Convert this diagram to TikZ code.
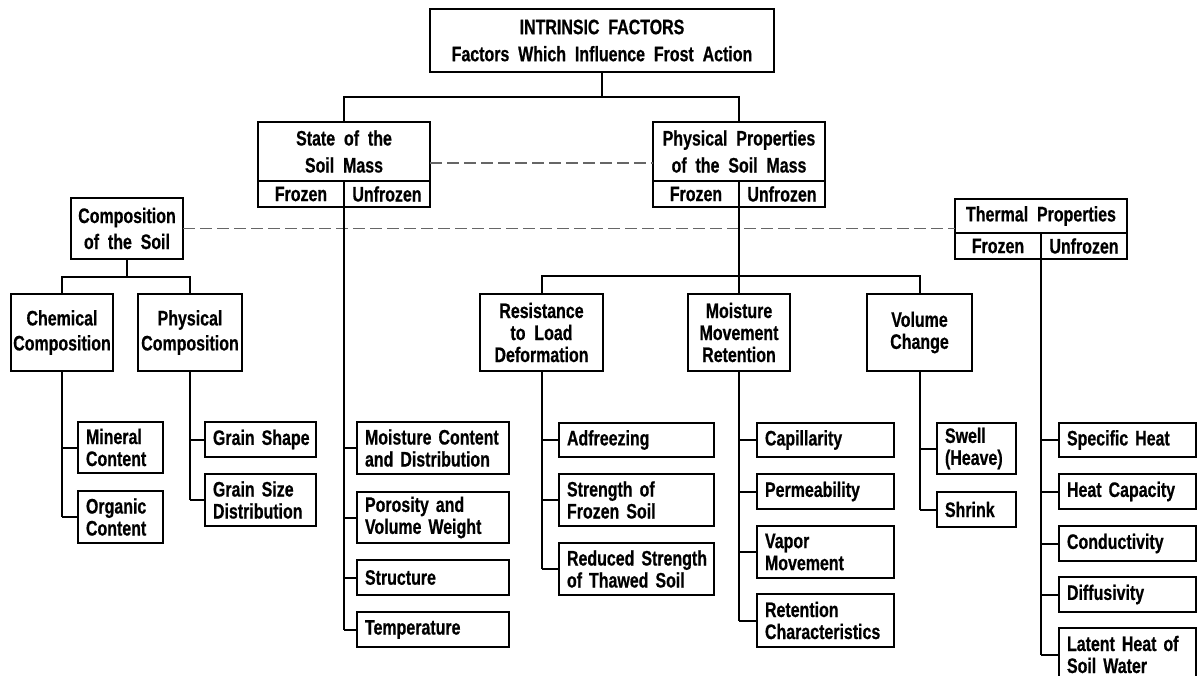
\documentclass[tikz,border=0pt]{standalone}
\usepackage{fontspec}
\setmainfont{Liberation Sans}[FakeStretch=0.76,WordSpace=2,BoldFeatures={FakeBold=0.6}]

\begin{document}
\begin{tikzpicture}[x=1pt,y=-1pt,font=\bfseries\fontsize{21}{22}\selectfont,
  box/.style={draw,line width=2.2pt,inner sep=0pt,outer sep=0pt,align=center},
  leaf/.style={draw,line width=2.2pt,outer sep=0pt,inner xsep=8pt,inner ysep=0pt,anchor=north west,align=left},
  link/.style={line width=2pt},
  tie/.style={line width=1.8pt,black!60,dash pattern=on 12pt off 5pt}]
\useasboundingbox (0,0) rectangle (1198,676);
% head of the tree
\node[box,minimum width=344pt,minimum height=63pt] (m) at (602,40.5) {INTRINSIC FACTORS\\[5pt]Factors Which Influence Frost Action};
% state and physical properties of the soil mass
\node[box,minimum width=172pt,minimum height=59pt] (sm) at (344,151.5) {State of the\\[5pt]Soil Mass};
\node[box,minimum width=86pt,minimum height=26pt,anchor=north west] (sf) at (sm.south west) {Frozen};
\node[box,minimum width=86pt,minimum height=26pt,anchor=north west] (su) at (sf.north east) {Unfrozen};
\node[box,minimum width=172pt,minimum height=59pt] (pp) at (739,151.5) {Physical Properties\\[5pt]of the Soil Mass};
\node[box,minimum width=86pt,minimum height=26pt,anchor=north west] (pf) at (pp.south west) {Frozen};
\node[box,minimum width=86pt,minimum height=26pt,anchor=north west] (pu) at (pf.north east) {Unfrozen};
\draw[link] (m.south) -- ++(0,25);
\draw[link] (sm.north) -- ++(0,-25) -| (pp.north);
\draw[tie] ([yshift=-11.5pt]sm.east) -- ([yshift=-11.5pt]pp.west);
% composition and thermal properties
\node[box,minimum width=112pt,minimum height=61pt] (cs) at (127,228.5) {Composition\\[4pt]of the Soil};
\node[box,minimum width=172pt,minimum height=34pt] (th) at (1041,216) {Thermal Properties};
\node[box,minimum width=86pt,minimum height=26pt,anchor=north west] (tf) at (th.south west) {Frozen};
\node[box,minimum width=86pt,minimum height=26pt,anchor=north west] (tu) at (tf.north east) {Unfrozen};
\draw[tie] (cs.east) -- (cs.east -| th.west);
% second row of groups
\node[box,minimum width=102pt,minimum height=77pt] (cc) at (62,332.5) {Chemical\\[3pt]Composition};
\node[box,minimum width=104pt,minimum height=77pt] (pc) at (190,332.5) {Physical\\[3pt]Composition};
\draw[link] (cs.south) -- ++(0,18);
\draw[link] (cc.north) -- ++(0,-17) -| (pc.north);
\node[box,minimum width=123pt,minimum height=77pt] (rl) at (541.5,332.5) {Resistance\\to Load\\Deformation};
\node[box,minimum width=102pt,minimum height=77pt] (mm) at (739,332.5) {Moisture\\Movement\\Retention};
\node[box,minimum width=105pt,minimum height=77pt] (vc) at (919.5,332.5) {Volume\\Change};
\draw[link] (pf.south east) -- (mm.north);
\draw[link] (rl.north) -- ++(0,-18) -| (vc.north);
% leaves
\foreach \n/\y/\h/\t in {mi/422/51/{Mineral\\Content},oc/491/52/{Organic\\Content}} {
  \node[leaf,text width=69pt,minimum height=\h pt] (\n) at (78,\y) {\t};
  \draw[link] (cc.south |- \n.west) -- (\n.west);
}
\draw[link] (cc.south) -- (cc.south |- oc.west);
\foreach \n/\y/\h/\t in {gs/422/35/{Grain~Shape},gd/474/52/{Grain~Size\\Distribution}} {
  \node[leaf,text width=95pt,minimum height=\h pt] (\n) at (205,\y) {\t};
  \draw[link] (pc.south |- \n.west) -- (\n.west);
}
\draw[link] (pc.south) -- (pc.south |- gd.west);
\foreach \n/\y/\h/\t in {mc/422/52/{Moisture~Content\\and~Distribution},pw/492/51/{Porosity~and\\Volume~Weight},st/560/35/{Structure},tp/612/35/{Temperature}} {
  \node[leaf,text width=136pt,minimum height=\h pt] (\n) at (357,\y) {\t};
  \draw[link] (sf.south east |- \n.west) -- (\n.west);
}
\draw[link] (sf.south east) -- (sf.south east |- tp.west);
\foreach \n/\y/\h/\t in {ad/423/34/{Adfreezing},sf2/474/52/{Strength~of\\Frozen~Soil},rs/543/52/{Reduced~Strength\\of~Thawed~Soil}} {
  \node[leaf,text width=139pt,minimum height=\h pt] (\n) at (559,\y) {\t};
  \draw[link] (rl.south |- \n.west) -- (\n.west);
}
\draw[link] (rl.south) -- (rl.south |- rs.west);
\foreach \n/\y/\h/\t in {ca/423/34/{Capillarity},pe/474/35/{Permeability},vm/526/52/{Vapor\\Movement},rc/594/53/{Retention\\Characteristics}} {
  \node[leaf,text width=121pt,minimum height=\h pt] (\n) at (757,\y) {\t};
  \draw[link] (mm.south |- \n.west) -- (\n.west);
}
\draw[link] (mm.south) -- (mm.south |- rc.west);
\foreach \n/\y/\h/\t in {sw/423/51/{Swell\\(Heave)},sh/492/35/{Shrink}} {
  \node[leaf,text width=63pt,minimum height=\h pt] (\n) at (937,\y) {\t};
  \draw[link] (vc.south |- \n.west) -- (\n.west);
}
\draw[link] (vc.south) -- (vc.south |- sh.west);
\foreach \n/\y/\h/\t in {sp/423/34/{Specific~Heat},hc/474/35/{Heat~Capacity},co/526/35/{Conductivity},di/577/35/{Diffusivity},lh/628/53/{Latent~Heat~of\\Soil~Water}} {
  \node[leaf,text width=121pt,minimum height=\h pt] (\n) at (1059,\y) {\t};
  \draw[link] (tf.south east |- \n.west) -- (\n.west);
}
\draw[link] (tf.south east) -- (tf.south east |- lh.west);
\end{tikzpicture}
\end{document}
